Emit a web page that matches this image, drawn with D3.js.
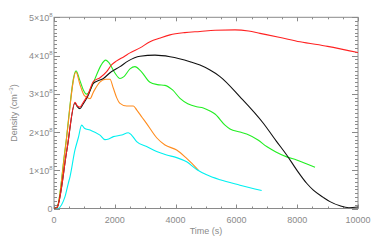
<!DOCTYPE html>
<html><head><meta charset="utf-8">
<script src="https://cdn.jsdelivr.net/npm/d3@7"></script>
<style>
html,body{margin:0;padding:0;background:#fff;}
svg text{font-family:"Liberation Sans","DejaVu Sans",sans-serif;fill:#8a8a8a;}
</style></head>
<body><svg id="c" width="374" height="244"></svg>
<script>
// ---- data (time in s, density in cm^-3) ----
const blackT = [0,100,424,690,760,855,950,1118,1294,1513,1623,1842,2171,2445,2829,3322,3816,4474,4803,5132,5461,6118,6886,7325,7654,7982,8311,8531,8860,9079,9408,9700,10000];
const blackV = [0,0.03,1.53,2.76,2.67,2.61,2.72,2.95,3.27,3.36,3.40,3.55,3.71,3.86,3.98,4.01,3.97,3.84,3.75,3.62,3.45,2.92,2.23,1.75,1.40,1.01,0.66,0.48,0.29,0.18,0.07,0.02,0.04];
const redT = [0,100,424,690,760,855,950,1118,1294,1513,1732,1900,2061,2300,2500,2829,3158,3500,3816,4300,4803,5300,5954,6400,6776,7400,8092,9000,10000];
const redV = [0,0.03,1.53,2.78,2.69,2.65,2.76,2.98,3.32,3.42,3.58,3.76,3.86,3.97,4.07,4.20,4.36,4.46,4.54,4.60,4.63,4.66,4.67,4.64,4.58,4.48,4.36,4.24,4.08];
const greenT = [0,100,362,724,850,965,1070,1180,1300,1403,1550,1700,1800,2000,2171,2300,2500,2664,2850,3158,3400,3651,3900,4145,4400,4693,4912,5132,5296,5625,5789,6118,6338,6711,6996,7300,7654,7982,8300,8586];
const greenV = [0,0.03,1.53,3.60,3.35,3.10,2.99,3.08,3.30,3.50,3.75,3.88,3.82,3.55,3.40,3.45,3.65,3.71,3.60,3.30,3.24,3.22,3.10,2.88,2.74,2.66,2.63,2.55,2.47,2.18,2.08,2.00,1.95,1.79,1.62,1.48,1.35,1.27,1.17,1.08];
const orangeT = [0,100,362,724,850,1000,1184,1300,1500,1700,1842,1950,2061,2171,2390,2610,2719,2900,3048,3377,3651,4035,4364,4693,4750];
const orangeV = [0,0.03,1.50,3.57,3.25,2.95,2.87,3.05,3.30,3.38,3.38,3.15,2.90,2.75,2.68,2.68,2.58,2.38,2.22,1.85,1.66,1.53,1.31,1.05,1.00];
const cyanT = [0,130,250,362,470,526,690,800,910,1000,1184,1513,1678,1800,1952,2226,2445,2550,2719,3048,3377,3706,4035,4364,4693,5022,5461,6118,6831];
const cyanV = [0,0,0.10,0.31,0.66,0.83,1.53,1.85,2.18,2.10,2.05,1.92,1.80,1.82,1.88,1.92,1.98,1.92,1.75,1.62,1.49,1.40,1.33,1.22,1.02,0.88,0.75,0.61,0.47];
const xTicks = [0,2000,4000,6000,8000,10000];
const yTicks = [0,1e8,2e8,3e8,4e8,5e8];
const yTickLabels = ["0","1×10","2×10","3×10","4×10","5×10"];
const yTickExp = ["","8","8","8","8","8"];

const series = [
  {t:greenT, v:greenV, color:"#22ee22"},
  {t:orangeT, v:orangeV, color:"#ff8c1e"},
  {t:cyanT, v:cyanV, color:"#00f0f0"},
  {t:blackT, v:blackV, color:"#111111"},
  {t:redT, v:redV, color:"#ff2222"}
];

const L=54, R=358, T=17.3, B=208.5;
const x = d3.scaleLinear().domain([0,10000]).range([L,R]);
const y = d3.scaleLinear().domain([0,5e8]).range([B,T]);
const svg = d3.select("#c");
const axisColor = "#8a8a8a";

svg.append("clipPath").attr("id","clip").append("rect")
  .attr("x",L).attr("y",T).attr("width",R-L).attr("height",B-T);

// frame
svg.append("rect").attr("x",L).attr("y",T).attr("width",R-L).attr("height",B-T)
  .attr("fill","none").attr("stroke",axisColor).attr("stroke-width",1);

// x ticks
const xMinor = d3.range(0,10001,500);
xMinor.forEach(v=>{
  const major = v%2000===0;
  const len = major?4:2;
  const px = Math.round(x(v))+0.5;
  svg.append("line").attr("x1",px).attr("x2",px).attr("y1",B).attr("y2",B-len).attr("stroke",axisColor);
  svg.append("line").attr("x1",px).attr("x2",px).attr("y1",T).attr("y2",T+len).attr("stroke",axisColor);
});
// y ticks
const yMinor = d3.range(0,51).map(i=>i*1e7);
yMinor.forEach((v,i)=>{
  const major = i%10===0;
  const len = major?6:3;
  const py = Math.round(y(v))+0.5;
  svg.append("line").attr("x1",L).attr("x2",L+len).attr("y1",py).attr("y2",py).attr("stroke",axisColor);
  svg.append("line").attr("x1",R).attr("x2",R-len).attr("y1",py).attr("y2",py).attr("stroke",axisColor);
});

// x labels
xTicks.forEach(v=>{
  svg.append("text").attr("x",x(v)).attr("y",223).attr("text-anchor","middle")
    .attr("font-size",9).text(v);
});
// y labels
yTicks.forEach((v,i)=>{
  const t = svg.append("text").attr("x",52.5).attr("y",y(v)+3.5).attr("text-anchor","end").attr("font-size",9);
  t.append("tspan").text(yTickLabels[i]);
  if(yTickExp[i]) t.append("tspan").attr("font-size",6).attr("dy",-4).text(yTickExp[i]);
});
// axis titles
svg.append("text").attr("x",206).attr("y",234).attr("text-anchor","middle").attr("font-size",9).text("Time (s)");
const yt = svg.append("text").attr("transform","translate(17,113) rotate(-90)").attr("text-anchor","middle").attr("font-size",9);
yt.append("tspan").text("Density (cm");
yt.append("tspan").attr("font-size",6).attr("dy",-4).text("−3");
yt.append("tspan").attr("dy",4).text(")");

// lines
const line = d3.line().curve(d3.curveMonotoneX);
const g = svg.append("g").attr("clip-path","url(#clip)");
series.forEach(s=>{
  const pts = s.t.map((t,i)=>[x(t), y(s.v[i]*1e8)]);
  g.append("path").attr("d",line(pts)).attr("fill","none").attr("stroke",s.color).attr("stroke-width",1.1);
});
</script></body></html>
